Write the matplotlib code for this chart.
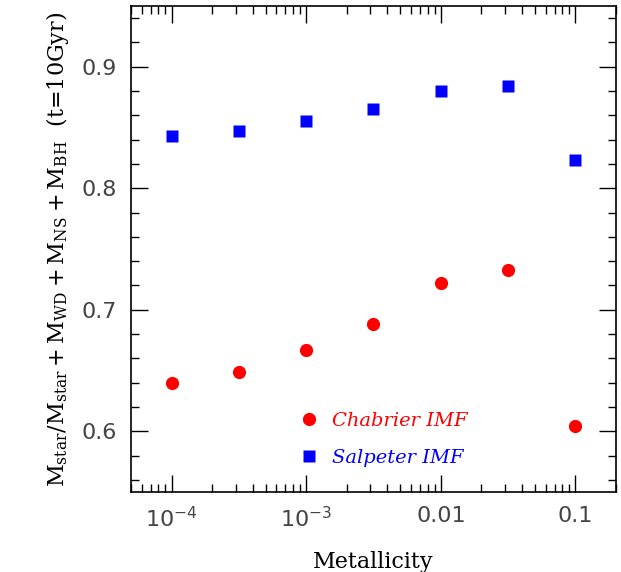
import numpy as np
import matplotlib
matplotlib.use("Agg")
import matplotlib.pyplot as plt
from matplotlib.ticker import MultipleLocator, LogLocator, FixedLocator, FixedFormatter

# metallicity grid and remaining mass fractions at t = 10 Gyr
metallicity = [1e-4, 3.16e-4, 1e-3, 3.16e-3, 0.01, 0.0316, 0.1]
chabrier = [0.640, 0.649, 0.667, 0.688, 0.722, 0.733, 0.604]
salpeter = [0.843, 0.847, 0.855, 0.865, 0.880, 0.884, 0.823]

xticks = [1e-4, 1e-3, 0.01, 0.1]
xticklabels = [r'$10^{-4}$', r'$10^{-3}$', '0.01', '0.1']

plt.rcParams['mathtext.fontset'] = 'dejavusans'

fig = plt.figure(figsize=(6.21, 5.72), dpi=100)
ax = fig.add_axes([131 / 621, 80 / 572, 485 / 621, 486 / 572])

ax.plot(metallicity, chabrier, 'o', color='red', ms=9.5, mec='none', label='Chabrier IMF')
ax.plot(metallicity, salpeter, 's', color='blue', ms=8.5, mec='none', label='Salpeter IMF')

ax.set_xscale('log')
ax.set_xlim(5e-5, 0.2)
ax.set_ylim(0.55, 0.95)

ax.xaxis.set_major_locator(FixedLocator(xticks))
ax.xaxis.set_major_formatter(FixedFormatter(xticklabels))
ax.xaxis.set_minor_locator(LogLocator(base=10, subs=np.arange(2, 10)))
ax.yaxis.set_major_locator(MultipleLocator(0.1))
ax.yaxis.set_minor_locator(MultipleLocator(0.02))

ax.tick_params(which='both', direction='in', top=True, right=True, labelsize=16, width=1,
               color='black', labelcolor='#444444')
ax.tick_params(which='major', length=12, pad=10)
ax.tick_params(which='minor', length=6)
for s in ax.spines.values():
    s.set_linewidth(1.2)

ax.set_xlabel('Metallicity', family='DejaVu Serif', fontsize=16, labelpad=14)
ax.set_ylabel(r'$\mathregular{M_{star}/M_{star}+M_{WD}+M_{NS}+M_{BH}}$  (t=10Gyr)',
              family='DejaVu Serif', fontsize=16, labelpad=8)
ax.yaxis.label.set_math_fontfamily('dejavuserif')

leg = ax.legend(loc='lower left', bbox_to_anchor=(0.31, 0.015), frameon=False,
                prop={'family': 'DejaVu Serif', 'style': 'italic', 'size': 14},
                labelcolor='linecolor', handletextpad=0.7, labelspacing=1.0,
                numpoints=1, handlelength=1.0)

fig.savefig('out.png', dpi=100)
